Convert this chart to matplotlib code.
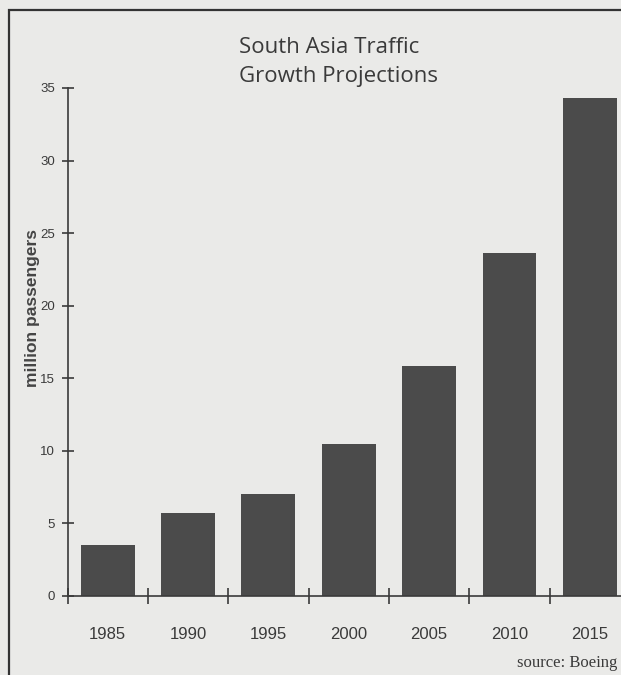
import matplotlib
matplotlib.use('Agg')
import matplotlib.pyplot as plt
from matplotlib.patches import Rectangle

years = ['1985', '1990', '1995', '2000', '2005', '2010', '2015']
passengers = [3.5, 5.7, 7.0, 10.5, 15.85, 23.6, 34.3]
y_ticks = [0, 5, 10, 15, 20, 25, 30, 35]

W, H = 621, 675
paper = '#eaeae8'
ink = '#3a3a3a'
bar_color = '#4b4b4b'

fig = plt.figure(figsize=(W / 100, H / 100), dpi=100, facecolor=paper)

# axes placed in pixel terms: y axis at x=67.5, baseline y=596, 35 at y=88
ax = fig.add_axes([67.5 / W, (H - 596) / H, (W - 67.5) / W, (596 - 88) / H])
ax.set_facecolor(paper)

xpos = list(range(len(years)))
ax.bar(xpos, passengers, width=0.67, color=bar_color, zorder=2)

ax.set_xlim(-0.5, (W - 108) / 80.3)
ax.set_ylim(0, 35)

for s in ['top', 'right']:
    ax.spines[s].set_visible(False)
for s in ['left', 'bottom']:
    ax.spines[s].set_color(ink)
    ax.spines[s].set_linewidth(1.2)
    ax.spines[s].set_zorder(3)

# y axis: crossing ticks
ax.set_yticks(y_ticks)
ax.set_yticklabels([str(v) for v in y_ticks], family='Liberation Sans',
                   fontsize=9.5, color=ink)
ax.tick_params(axis='y', direction='inout', length=8, width=1.2, color=ink, pad=5)

# x axis: crossing ticks between bars, labels under the bars
ax.set_xticks([x - 0.5 for x in xpos])
ax.set_xticklabels([])
ax.tick_params(axis='x', which='major', direction='inout', length=12, width=1.2, color=ink)
ax.set_xticks(xpos, minor=True)
ax.set_xticklabels(years, minor=True, family='Liberation Sans', fontsize=12, color=ink)
ax.tick_params(axis='x', which='minor', length=0, pad=22)

# title
fig.text(239 / W, 1 - 53 / H, 'South Asia Traffic', family='Open Sans', fontsize=16,
         color=ink, ha='left', va='baseline')
fig.text(239 / W, 1 - 82 / H, 'Growth Projections', family='Open Sans', fontsize=16,
         color=ink, ha='left', va='baseline')

fig.text(33 / W, 1 - 308 / H, 'million passengers', family='Liberation Sans', fontweight='bold',
         fontsize=12.5, color='#454545', rotation=90, ha='center', va='center')

fig.text(617 / W, 1 - 667 / H, 'source: Boeing', family='Liberation Serif', fontsize=12,
         color=ink, ha='right', va='baseline')

# frame around the figure
fig.add_artist(Rectangle((9 / W, -0.05), 1.1, 1 - 10 / H + 0.05, transform=fig.transFigure,
                         fill=False, edgecolor='#333333', linewidth=1.6))

fig.savefig('out.png', dpi=100, facecolor=paper)
